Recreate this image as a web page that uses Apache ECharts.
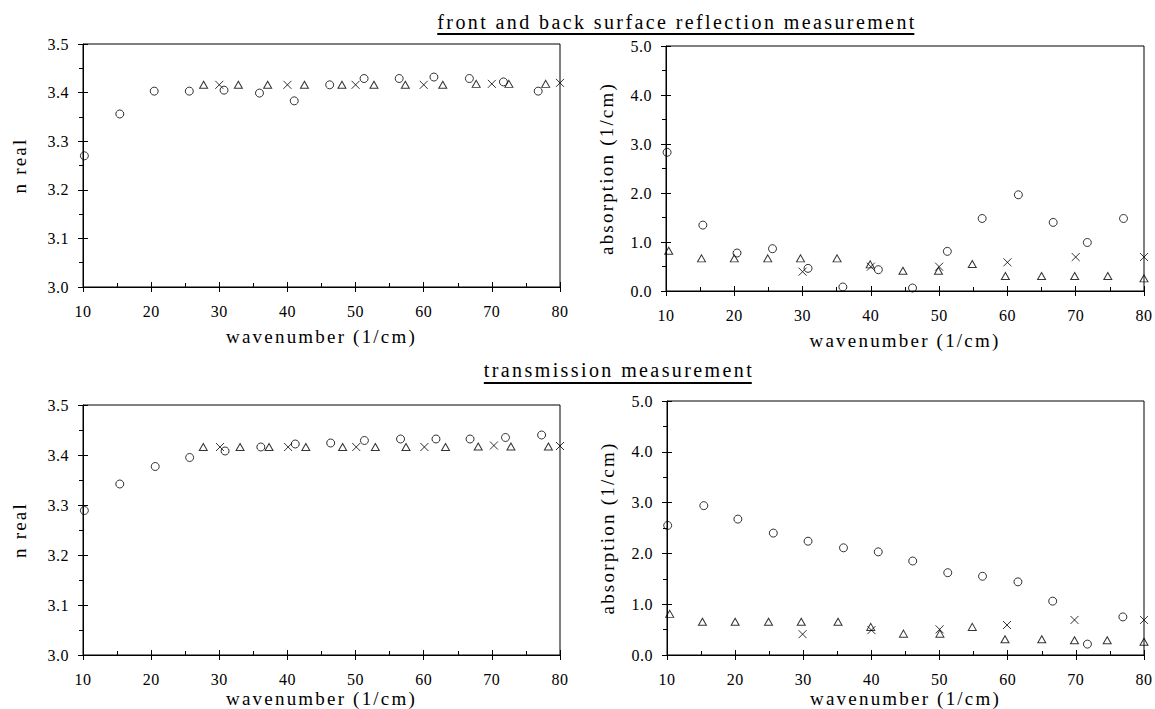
<!DOCTYPE html>
<html>
<head>
<meta charset="utf-8">
<script src="https://cdn.jsdelivr.net/npm/echarts@6/dist/echarts.min.js"></script>
<style>
  html, body { margin: 0; padding: 0; background: #fff; }
  #chart { width: 1155px; height: 709px; }
  /* spaced-out serif lettering: tick labels, axis names, section titles */
  #chart text { font-family: 'Liberation Serif', 'Times New Roman', serif !important; }
  #chart text[style*="16px"] { letter-spacing: 0.5px; }
  #chart text[style*="19px"] { letter-spacing: 2.2px; }
  #chart text[style*="20px"] { letter-spacing: 2.4px; }
</style>
</head>
<body>
<div id="chart"></div>
<script>
// ---------- data: front and back surface reflection ----------
const reflNMeasX = [10.2, 15.4, 20.45, 25.6, 30.7, 35.9, 41.0, 46.2, 51.25, 56.4, 61.5, 66.7, 71.7, 76.8];
const reflNMeasY = [3.270, 3.356, 3.403, 3.403, 3.405, 3.399, 3.383, 3.416, 3.429, 3.429, 3.432, 3.429, 3.422, 3.403];
const reflNTriX = [27.7, 32.8, 37.1, 42.5, 48.0, 52.7, 57.3, 62.8, 67.7, 72.5, 77.9];
const reflNTriY = [3.416, 3.416, 3.416, 3.416, 3.416, 3.416, 3.416, 3.416, 3.418, 3.418, 3.418];
const reflNCrossX = [30, 40, 50, 60, 70, 80];
const reflNCrossY = [3.416, 3.416, 3.416, 3.416, 3.418, 3.420];

const reflAbsMeasX = [10.16, 15.4, 20.4, 25.6, 30.8, 35.9, 41.1, 46.1, 51.2, 56.3, 61.6, 66.7, 71.7, 77.0];
const reflAbsMeasY = [2.83, 1.345, 0.775, 0.863, 0.462, 0.082, 0.435, 0.061, 0.809, 1.48, 1.963, 1.40, 0.99, 1.48];
const reflAbsTriX = [10.4, 15.2, 20.0, 24.9, 29.7, 35.05, 39.9, 44.7, 49.9, 54.85, 59.7, 65.0, 69.85, 74.7, 80.0];
const reflAbsTriY = [0.82, 0.666, 0.666, 0.666, 0.666, 0.666, 0.544, 0.414, 0.414, 0.55, 0.306, 0.306, 0.306, 0.306, 0.258];
const reflAbsCrossX = [30, 40, 50, 60, 70, 80];
const reflAbsCrossY = [0.394, 0.496, 0.496, 0.585, 0.693, 0.693];

// ---------- data: transmission ----------
const transNMeasX = [10.2, 15.4, 20.6, 25.65, 30.85, 36.1, 41.15, 46.35, 51.3, 56.6, 61.8, 66.8, 72.0, 77.3];
const transNMeasY = [3.289, 3.342, 3.377, 3.395, 3.408, 3.416, 3.422, 3.424, 3.429, 3.432, 3.432, 3.432, 3.435, 3.440];
const transNTriX = [27.65, 33.05, 37.3, 42.7, 48.1, 52.9, 57.4, 63.2, 68.0, 72.8, 78.3];
const transNTriY = [3.416, 3.416, 3.416, 3.416, 3.416, 3.416, 3.416, 3.416, 3.417, 3.417, 3.417];
const transNCrossX = [30.1, 40.1, 50.1, 60.1, 70.3, 80];
const transNCrossY = [3.416, 3.416, 3.416, 3.416, 3.419, 3.418];

const transAbsMeasX = [10.1, 15.4, 20.4, 25.6, 30.7, 35.9, 41.0, 46.06, 51.2, 56.3, 61.5, 66.6, 71.7, 76.9];
const transAbsMeasY = [2.55, 2.94, 2.675, 2.40, 2.24, 2.11, 2.03, 1.85, 1.62, 1.55, 1.44, 1.06, 0.214, 0.75];
const transAbsTriX = [10.4, 15.2, 20.0, 24.9, 29.7, 35.1, 39.9, 44.7, 50.05, 54.8, 59.6, 65.0, 69.8, 74.6, 80.0];
const transAbsTriY = [0.81, 0.656, 0.656, 0.656, 0.656, 0.656, 0.553, 0.42, 0.42, 0.553, 0.31, 0.31, 0.29, 0.29, 0.26];
const transAbsCrossX = [29.9, 40.0, 50.0, 59.9, 69.8, 80.0];
const transAbsCrossY = [0.41, 0.49, 0.505, 0.59, 0.69, 0.69];

// ---------- axis text ----------
const xAxisName = 'wavenumber (1/cm)';
const nAxisName = 'n real';
const absAxisName = 'absorption (1/cm)';
const sectionTitles = ['front and back surface reflection measurement', 'transmission measurement'];

// ---------- styling / layout ----------
const SERIF = "Liberation Serif";
const INK = '#000';

const panels = [
  { box: { left: 83, top: 44, width: 477, height: 243 }, yMin: 3.0, yMax: 3.5, yStep: 0.1, yName: nAxisName, yNameGap: 54, xNameGap: 40,
    sets: [[reflNMeasX, reflNMeasY], [reflNTriX, reflNTriY], [reflNCrossX, reflNCrossY]] },
  { box: { left: 666, top: 46, width: 478, height: 245 }, yMin: 0, yMax: 5, yStep: 1, yName: absAxisName, yNameGap: 50, xNameGap: 40,
    sets: [[reflAbsMeasX, reflAbsMeasY], [reflAbsTriX, reflAbsTriY], [reflAbsCrossX, reflAbsCrossY]] },
  { box: { left: 83, top: 405, width: 477, height: 251 }, yMin: 3.0, yMax: 3.5, yStep: 0.1, yName: nAxisName, yNameGap: 54, xNameGap: 34,
    sets: [[transNMeasX, transNMeasY], [transNTriX, transNTriY], [transNCrossX, transNCrossY]] },
  { box: { left: 667, top: 401, width: 479, height: 257 }, yMin: 0, yMax: 5, yStep: 1, yName: absAxisName, yNameGap: 50, xNameGap: 34,
    sets: [[transAbsMeasX, transAbsMeasY], [transAbsTriX, transAbsTriY], [transAbsCrossX, transAbsCrossY]] }
];

const markers = [
  { symbol: 'circle', symbolSize: 8 },
  { symbol: 'triangle', symbolSize: [8, 7] },
  { symbol: 'path://M0,0L10,10M10,0L0,10', symbolSize: 8 }
];
const seriesNames = ['measured', 'model A', 'model B'];

const zip = (xs, ys) => xs.map((x, i) => [x, ys[i]]);

const grid = [], xAxis = [], yAxis = [], series = [];

panels.forEach((p, i) => {
  grid.push(Object.assign({ show: true, borderColor: INK, borderWidth: 1, backgroundColor: 'transparent' }, p.box));

  const lineStyle = { color: INK, width: 1 };
  // main x axis: line, labels, outward half of the major ticks
  xAxis.push({
    type: 'value', gridIndex: i, position: 'bottom', min: 10, max: 80, interval: 10,
    name: xAxisName, nameLocation: 'middle', nameGap: p.xNameGap, nameMoveOverlap: false,
    nameTextStyle: { fontFamily: SERIF, fontSize: 19, color: INK },
    axisLine: { show: true, onZero: false, lineStyle },
    axisTick: { show: true, inside: false, length: 5, lineStyle },
    minorTick: { show: false },
    axisLabel: { show: true, margin: 16, fontFamily: SERIF, fontSize: 16, color: INK },
    splitLine: { show: false }
  });
  // companion x axis: inward half of the major ticks plus inward minor ticks
  xAxis.push({
    type: 'value', gridIndex: i, position: 'bottom', min: 10, max: 80, interval: 10,
    axisLine: { show: false, onZero: false },
    axisTick: { show: true, inside: true, length: 5, lineStyle },
    minorTick: { show: true, splitNumber: 2, length: 4, lineStyle },
    axisLabel: { show: false },
    splitLine: { show: false }
  });
  // main y axis: line, labels, outward major + minor ticks
  yAxis.push({
    type: 'value', gridIndex: i, position: 'left', min: p.yMin, max: p.yMax, interval: p.yStep,
    name: p.yName, nameLocation: 'middle', nameGap: p.yNameGap, nameMoveOverlap: false,
    nameTextStyle: { fontFamily: SERIF, fontSize: 19, color: INK },
    axisLine: { show: true, onZero: false, lineStyle },
    axisTick: { show: true, inside: false, length: 5, lineStyle },
    minorTick: { show: true, splitNumber: 2, length: 4, lineStyle },
    axisLabel: { show: true, margin: 14, fontFamily: SERIF, fontSize: 16, color: INK,
                 formatter: v => v.toFixed(1) },
    splitLine: { show: false }
  });
  // companion y axis: inward half of the major ticks
  yAxis.push({
    type: 'value', gridIndex: i, position: 'left', min: p.yMin, max: p.yMax, interval: p.yStep,
    axisLine: { show: false, onZero: false },
    axisTick: { show: true, inside: true, length: 5, lineStyle },
    minorTick: { show: false },
    axisLabel: { show: false },
    splitLine: { show: false }
  });

  p.sets.forEach((s, k) => {
    series.push({
      type: 'scatter', name: seriesNames[k],
      xAxisIndex: 2 * i, yAxisIndex: 2 * i,
      symbol: markers[k].symbol, symbolSize: markers[k].symbolSize,
      clip: false, silent: true,
      itemStyle: { color: 'rgba(0,0,0,0)', borderColor: INK, borderWidth: 1 },
      emphasis: { disabled: true },
      data: zip(s[0], s[1])
    });
  });
});

const titleSpots = [
  { x: 677, y: 22, lineY: 34 },
  { x: 619, y: 370, lineY: 383 }
];

const option = {
  animation: false,
  backgroundColor: '#fff',
  textStyle: { fontFamily: SERIF, color: INK },
  grid, xAxis, yAxis, series,
  graphic: {
    elements: sectionTitles.map((t, k) => ({
      type: 'text', id: 'title' + k, x: titleSpots[k].x, y: titleSpots[k].y, silent: true,
      style: { text: t, fontFamily: SERIF, fontSize: 20, fill: INK,
               textAlign: 'center', textVerticalAlign: 'middle', align: 'center', verticalAlign: 'middle' }
    }))
  }
};

const el = document.getElementById('chart');
const chart = echarts.init(el, null, { renderer: 'svg', width: 1155, height: 709 });
chart.setOption(option);

// underline each section title across its rendered width
const host = el.getBoundingClientRect();
const underlines = [];
el.querySelectorAll('text').forEach(t => {
  const k = sectionTitles.indexOf(t.textContent);
  if (k < 0) return;
  const r = t.getBoundingClientRect();
  underlines.push({
    type: 'line', id: 'underline' + k, silent: true,
    shape: { x1: r.left - host.left, y1: titleSpots[k].lineY, x2: r.right - host.left - 2.4, y2: titleSpots[k].lineY },
    style: { stroke: INK, lineWidth: 2 }
  });
});
chart.setOption({ graphic: { elements: underlines } });
</script>
</body>
</html>
